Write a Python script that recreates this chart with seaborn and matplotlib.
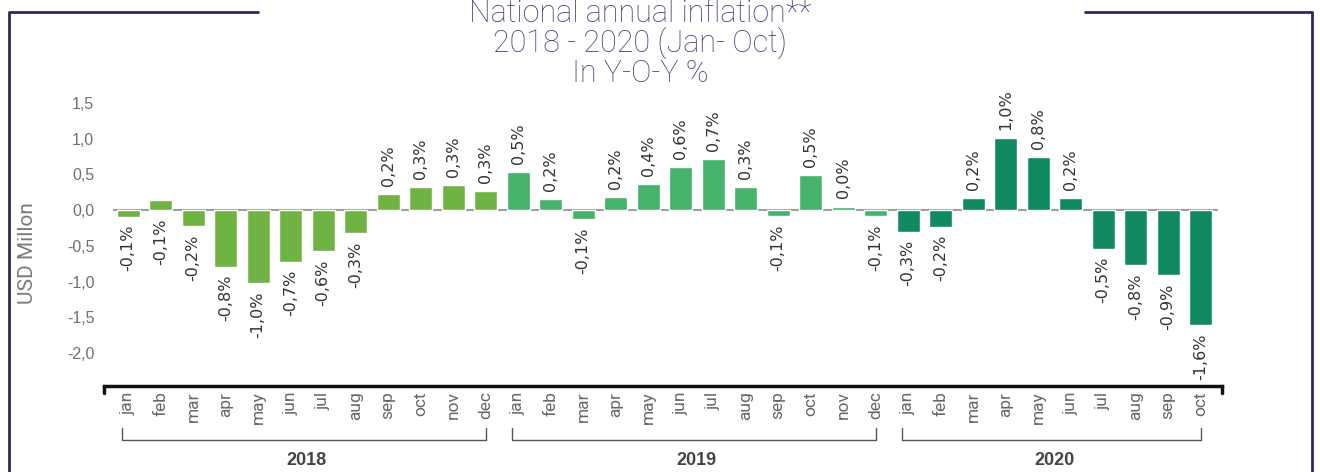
import numpy as np
import pandas as pd
import seaborn as sns
import matplotlib.pyplot as plt
from matplotlib.lines import Line2D
from matplotlib import transforms

# data
months = ['jan', 'feb', 'mar', 'apr', 'may', 'jun', 'jul', 'aug', 'sep', 'oct', 'nov', 'dec',
          'jan', 'feb', 'mar', 'apr', 'may', 'jun', 'jul', 'aug', 'sep', 'oct', 'nov', 'dec',
          'jan', 'feb', 'mar', 'apr', 'may', 'jun', 'jul', 'aug', 'sep', 'oct']
years = ['2018'] * 12 + ['2019'] * 12 + ['2020'] * 10
values = [-0.09, 0.14, -0.22, -0.79, -1.02, -0.72, -0.57, -0.32, 0.22, 0.32, 0.35, 0.27,
          0.53, 0.15, -0.12, 0.18, 0.36, 0.60, 0.71, 0.32, -0.08, 0.49, 0.05, -0.08,
          -0.30, -0.23, 0.17, 1.01, 0.74, 0.17, -0.54, -0.77, -0.91, -1.61]
labels = ['-0,1%', '-0,1%', '-0,2%', '-0,8%', '-1,0%', '-0,7%', '-0,6%', '-0,3%', '0,2%', '0,3%', '0,3%', '0,3%',
          '0,5%', '0,2%', '-0,1%', '0,2%', '0,4%', '0,6%', '0,7%', '0,3%', '-0,1%', '0,5%', '0,0%', '-0,1%',
          '-0,3%', '-0,2%', '0,2%', '1,0%', '0,8%', '0,2%', '-0,5%', '-0,8%', '-0,9%', '-1,6%']
yticks = [-2.0, -1.5, -1.0, -0.5, 0.0, 0.5, 1.0, 1.5]
ytick_labels = ['-2,0', '-1,5', '-1,0', '-0,5', '0,0', '0,5', '1,0', '1,5']
title_lines = ['National annual inflation**', '2018 - 2020 (Jan- Oct)', 'In Y-O-Y %']
palette = {'2018': '#70B344', '2019': '#45B36B', '2020': '#108A5E'}

df = pd.DataFrame({'key': [f'{y}-{m}' for y, m in zip(years, months)],
                   'year': years, 'value': values})

sns.set_style('white')
plt.rcParams['font.family'] = ['Liberation Sans', 'DejaVu Sans']

fig = plt.figure(figsize=(13.2, 4.72), dpi=100)
ax = fig.add_axes([0.0788, 0.1822, 0.847, 0.627])

sns.barplot(data=df, x='key', y='value', hue='year', palette=palette,
            dodge=False, width=0.71, legend=False, ax=ax, saturation=1)

n = len(values)
ax.hlines(0, -0.46, n - 0.46, color='#a0a0a0', lw=1.5, zorder=0)
ax.set_xlim(-0.74, n - 0.34)
ax.set_ylim(-2.46, 1.68)

# value labels
for i, (v, lab) in enumerate(zip(values, labels)):
    if lab.startswith('-'):
        ax.annotate(lab, (i, min(v, 0)), xytext=(0, -6), textcoords='offset points',
                    rotation=90, ha='center', va='top', fontsize=11.5, color='#333333',
                    family='DejaVu Sans', annotation_clip=False)
    else:
        ax.annotate(lab, (i, max(v, 0)), xytext=(0, 6), textcoords='offset points',
                    rotation=90, ha='center', va='bottom', fontsize=11.5, color='#333333',
                    family='DejaVu Sans', annotation_clip=False)

ax.set_yticks(yticks)
ax.set_yticklabels(ytick_labels)
ax.set_xticks(range(n))
ax.set_xticklabels(months, rotation=90, family=['Roboto', 'Liberation Sans'])
ax.tick_params(axis='y', length=0, pad=7, labelsize=11.5, labelcolor='#707070')
ax.tick_params(axis='x', length=0, pad=4, labelsize=12.5, labelcolor='#666666')
ax.set_xlabel('')
ax.set_ylabel('')

for s in ['left', 'top', 'right']:
    ax.spines[s].set_visible(False)
ax.spines['bottom'].set_color('#111111')
ax.spines['bottom'].set_linewidth(2.5)

trans = transforms.blended_transform_factory(ax.transData, ax.transAxes)
# little end ticks on the axis line
for xa in [0, 1]:
    ax.plot([xa, xa], [0, -0.025], transform=ax.transAxes, color='#111111', lw=2.5, clip_on=False)

# year brackets
for yr in ['2018', '2019', '2020']:
    idx = [i for i, y in enumerate(years) if y == yr]
    a, b = idx[0], idx[-1]
    ax.plot([a - 0.2, a - 0.2, b, b], [-0.142, -0.182, -0.182, -0.142], transform=trans,
            color='#555555', lw=1, clip_on=False)
    ax.text((a + b) / 2, -0.253, yr, transform=trans, ha='center', va='center',
            fontsize=13, fontweight='bold', color='#444444',
            family=['Liberation Sans Narrow', 'Liberation Sans'])

fig.text(0.021, 0.464, 'USD Millon', rotation=90, ha='center', va='center',
         fontsize=15, color='#7a7a7a', family=['Roboto', 'Liberation Sans'])

for k, (line, ypix) in enumerate(zip(title_lines, [13, 43, 73])):
    fig.text(0.485, 1 - ypix / 472, line, ha='center', va='center', fontsize=22,
             color='#463D7A', family=['Roboto', 'Liberation Sans'], fontweight='light')

# frame corners
frame = '#2B2A5C'
W, H = 1320, 472
for xs, ys in [([9, 9, 258], [472, 12, 12]), ([1085, 1312, 1312], [12, 12, 472])]:
    fig.add_artist(Line2D([x / W for x in xs], [1 - y / H for y in ys], color=frame, lw=2))

fig.savefig('out.png', dpi=100)
